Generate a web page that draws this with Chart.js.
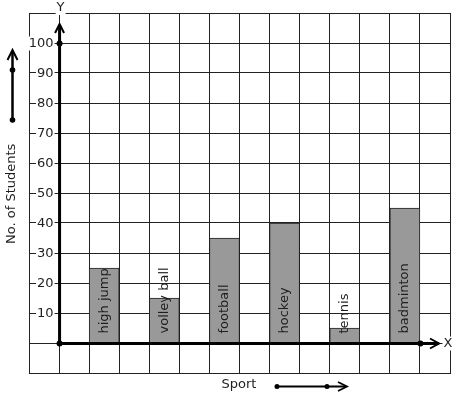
<!DOCTYPE html>
<html>
<head>
<meta charset="utf-8">
<script src="https://cdn.jsdelivr.net/npm/chart.js@4/dist/chart.umd.min.js"></script>
<style>
  body { margin: 0; background: #fff; }
</style>
</head>
<body>
<canvas id="grafico" width="457" height="399"></canvas>
<script>
const sports = ['high jump', 'volley ball', 'football', 'hockey', 'tennis', 'badminton'];
const students = [25, 15, 35, 40, 5, 45];
const yTicks = [10, 20, 30, 40, 50, 60, 70, 80, 90, 100];

const FONT = '13px "DejaVu Sans"';
const INK = '#1e1e1e';

// dibuja una flecha abierta (tipo ->) al final de un segmento
function chevron(ctx, x, y, dx, dy, len, half) {
    const px = -dy, py = dx;
    ctx.beginPath();
    ctx.moveTo(x - dx * len + px * half, y - dy * len + py * half);
    ctx.lineTo(x, y);
    ctx.lineTo(x - dx * len - px * half, y - dy * len - py * half);
    ctx.stroke();
}

function dot(ctx, x, y, r) {
    ctx.beginPath();
    ctx.arc(x, y, r, 0, Math.PI * 2);
    ctx.fill();
}

function labelBg(ctx, text, x, y, align) {
    ctx.textAlign = align;
    ctx.textBaseline = 'middle';
    const w = ctx.measureText(text).width;
    const left = align === 'right' ? x - w : (align === 'center' ? x - w / 2 : x);
    ctx.fillStyle = '#fff';
    ctx.fillRect(left - 1, y - 7, w + 2, 14);
    ctx.fillStyle = INK;
    ctx.fillText(text, x, y);
}

const extras = {
    id: 'extras',
    afterDatasetsDraw(chart) {
        const ctx = chart.ctx;
        const xs = chart.scales.x, ys = chart.scales.y;
        const area = chart.chartArea;
        const x0 = xs.getPixelForValue(0) + 0.5;
        const y0 = ys.getPixelForValue(0) + 0.5;

        ctx.save();
        ctx.font = FONT;

        // nombres dentro de las barras
        const meta = chart.getDatasetMeta(0);
        meta.data.forEach((bar, i) => {
            ctx.save();
            ctx.translate(bar.x, y0 - 10);
            ctx.rotate(-Math.PI / 2);
            ctx.textAlign = 'left';
            ctx.textBaseline = 'middle';
            ctx.fillStyle = INK;
            ctx.fillText(sports[i], 0, 0);
            ctx.restore();
        });

        // ejes
        ctx.strokeStyle = '#000';
        ctx.fillStyle = '#000';
        ctx.lineWidth = 3;
        ctx.lineCap = 'butt';
        ctx.beginPath();
        ctx.moveTo(x0, y0);
        ctx.lineTo(x0, area.top + 12);
        ctx.moveTo(x0, y0);
        ctx.lineTo(area.right - 11, y0);
        ctx.stroke();
        ctx.lineWidth = 2;
        chevron(ctx, x0, area.top + 11, 0, -1, 9, 4.5);
        chevron(ctx, area.right - 11, y0, 1, 0, 9, 5);
        dot(ctx, x0, y0, 3);
        dot(ctx, x0, ys.getPixelForValue(100) + 0.5, 3);
        dot(ctx, xs.getPixelForValue(12) + 0.5, y0, 3);

        // etiquetas del eje Y
        ctx.font = FONT;
        yTicks.forEach(v => {
            labelBg(ctx, String(v), x0 - 6, ys.getPixelForValue(v) + 0.5, 'right');
        });
        labelBg(ctx, 'Y', x0 + 1, area.top - 5, 'center');
        labelBg(ctx, 'X', area.right - 2, y0, 'center');

        // titulo del eje Y con flecha
        ctx.save();
        ctx.translate(12, 244);
        ctx.rotate(-Math.PI / 2);
        ctx.textAlign = 'left';
        ctx.textBaseline = 'middle';
        ctx.fillStyle = INK;
        ctx.fillText('No. of Students', 0, 0);
        ctx.restore();

        ctx.strokeStyle = '#000';
        ctx.fillStyle = '#000';
        ctx.lineWidth = 2.5;
        ctx.beginPath();
        ctx.moveTo(12.5, 120);
        ctx.lineTo(12.5, 51);
        ctx.stroke();
        ctx.lineWidth = 2;
        chevron(ctx, 12.5, 50, 0, -1, 10, 5);
        dot(ctx, 12.5, 120, 2.8);
        dot(ctx, 12.5, 70, 2.8);

        // titulo del eje X con flecha
        ctx.textAlign = 'center';
        ctx.textBaseline = 'middle';
        ctx.fillStyle = INK;
        ctx.fillText('Sport', 239, 385);
        ctx.fillStyle = '#000';
        ctx.lineWidth = 1.8;
        ctx.beginPath();
        ctx.moveTo(277, 386.5);
        ctx.lineTo(346, 386.5);
        ctx.stroke();
        chevron(ctx, 347, 386.5, 1, 0, 9, 4.5);
        dot(ctx, 277, 386.5, 2.5);
        dot(ctx, 327, 386.5, 2.5);

        ctx.restore();
    }
};

const ctx = document.getElementById('grafico').getContext('2d');
const chart = new Chart(ctx, {
    type: 'bar',
    data: {
        datasets: [{
            data: students.map((v, i) => ({ x: 2 * i + 1.5, y: v })),
            backgroundColor: '#999999',
            borderColor: '#222222',
            borderWidth: 1,
            borderSkipped: 'bottom',
            barThickness: 30,
            grouped: false
        }]
    },
    plugins: [extras],
    options: {
        responsive: false,
        animation: false,
        events: [],
        layout: { padding: { left: 29, right: 7, top: 13, bottom: 26 } },
        scales: {
            x: {
                type: 'linear',
                offset: false,
                min: -1,
                max: 13,
                ticks: { display: false, stepSize: 1 },
                grid: { offset: false, color: '#222', lineWidth: 1, drawTicks: false },
                border: { display: true, color: '#222', width: 1 }
            },
            y: {
                min: -10,
                max: 110,
                ticks: { display: false, stepSize: 10 },
                grid: { color: '#222', lineWidth: 1, drawTicks: false },
                border: { display: true, color: '#222', width: 1 }
            }
        },
        plugins: {
            legend: { display: false },
            tooltip: { enabled: false }
        }
    }
});
</script>
</body>
</html>
